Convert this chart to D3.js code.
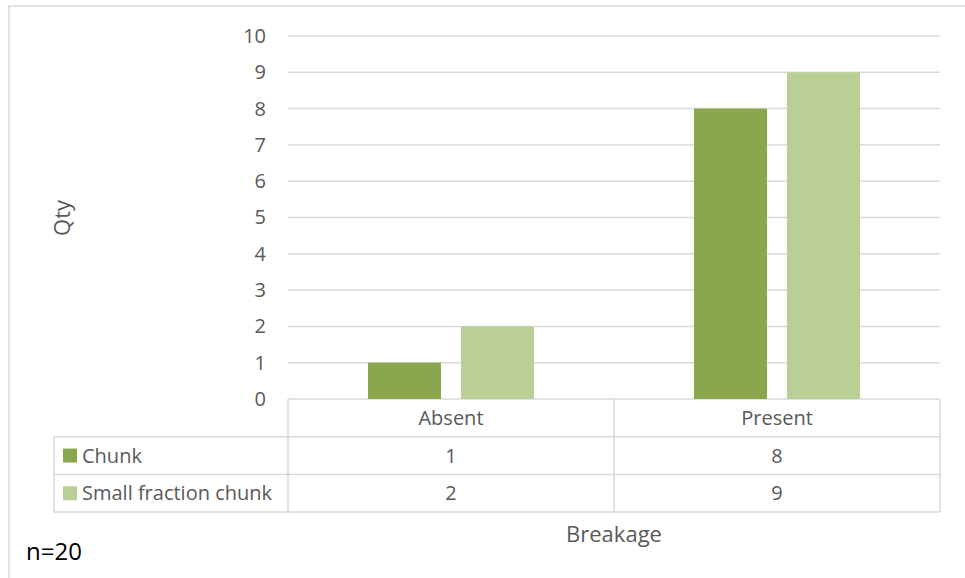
<!DOCTYPE html>
<html>
<head>
	<title>Breakage</title>
	<style type="text/css">
		body { margin: 0; background: #fff; }
		text { font-family: "Open Sans", sans-serif; fill: #595959; }
	</style>
</head>
<body>
	<div id="chart"></div>
	<script src="https://cdnjs.cloudflare.com/ajax/libs/d3/7.8.5/d3.min.js"></script>
	<script type="text/javascript">
		var categories = ["Absent", "Present"];
		var seriesNames = ["Chunk", "Small fraction chunk"];
		var chunk = [1, 8];
		var smallChunk = [2, 9];
		var yTicks = [0, 1, 2, 3, 4, 5, 6, 7, 8, 9, 10];
		var colors = ["#8AA64E", "#BACF96"];

		var width = 965, height = 578;
		var plotLeft = 288, plotRight = 940, plotTop = 36, plotBottom = 399;
		var rowH = 37.7;
		var fs = 20;

		var svg = d3.select('#chart').append('svg')
			.attr('width', width)
			.attr('height', height);

		// outer chart border
		svg.append('rect')
			.attr('x', 9).attr('y', 6)
			.attr('width', 970).attr('height', 600)
			.attr('fill', 'none')
			.attr('stroke', '#d9d9d9')
			.attr('stroke-width', 1.5);

		var y = d3.scaleLinear().domain([0, 10]).range([plotBottom, plotTop]);
		var x0 = d3.scaleBand().domain(categories).range([plotLeft, plotRight]);
		var x1 = d3.scaleBand().domain(seriesNames)
			.range([80, 326 - 80]).paddingInner(0.215);

		// gridlines
		svg.append('g').selectAll('line')
			.data(yTicks)
			.enter().append('line')
			.attr('x1', plotLeft).attr('x2', plotRight)
			.attr('y1', function(d) { return y(d); })
			.attr('y2', function(d) { return y(d); })
			.attr('stroke', '#d9d9d9')
			.attr('stroke-width', 1.5);

		// y tick labels
		var yAxis = d3.axisLeft(y).tickValues(yTicks).tickSize(0).tickPadding(0);
		var ga = svg.append('g').attr('transform', 'translate(266,0)').call(yAxis);
		ga.select('.domain').remove();
		ga.selectAll('text')
			.attr('font-size', fs)
			.attr('font-family', '"Open Sans", sans-serif')
			.attr('fill', '#595959');

		// bars
		var series = [chunk, smallChunk];
		series.forEach(function(vals, si) {
			svg.append('g').selectAll('rect')
				.data(vals)
				.enter().append('rect')
				.attr('x', function(d, i) { return x0(categories[i]) + x1(seriesNames[si]); })
				.attr('width', x1.bandwidth())
				.attr('y', function(d) { return y(d); })
				.attr('height', function(d) { return plotBottom - y(d); })
				.attr('fill', colors[si]);
		});

		// data table
		var tbl = svg.append('g');
		var tableLeft = 54;
		var rows = [plotBottom, plotBottom + rowH, plotBottom + 2 * rowH, plotBottom + 3 * rowH];
		function hline(xa, xb, yy) {
			tbl.append('line').attr('x1', xa).attr('x2', xb).attr('y1', yy).attr('y2', yy)
				.attr('stroke', '#d9d9d9').attr('stroke-width', 1.5);
		}
		function vline(xx, ya, yb) {
			tbl.append('line').attr('x1', xx).attr('x2', xx).attr('y1', ya).attr('y2', yb)
				.attr('stroke', '#d9d9d9').attr('stroke-width', 1.5);
		}
		hline(tableLeft, plotRight, rows[1]);
		hline(tableLeft, plotRight, rows[2]);
		hline(tableLeft, plotRight, rows[3]);
		vline(tableLeft, rows[1], rows[3]);
		vline(plotLeft, rows[0], rows[3]);
		vline(x0(categories[1]), rows[0], rows[3]);
		vline(plotRight, rows[0], rows[3]);

		// header row
		tbl.selectAll('.hdr')
			.data(categories)
			.enter().append('text')
			.attr('x', function(d) { return x0(d) + x0.bandwidth() / 2; })
			.attr('y', rows[0] + rowH / 2)
			.attr('dy', '0.35em')
			.attr('text-anchor', 'middle')
			.attr('font-size', fs)
			.text(function(d) { return d; });

		series.forEach(function(vals, si) {
			var ry = rows[si + 1];
			tbl.append('rect')
				.attr('x', 63).attr('y', ry + rowH / 2 - 7)
				.attr('width', 14).attr('height', 14)
				.attr('fill', colors[si]);
			tbl.append('text')
				.attr('x', 82).attr('y', ry + rowH / 2)
				.attr('dy', '0.35em')
				.attr('font-size', fs)
				.text(seriesNames[si]);
			tbl.selectAll('.v' + si)
				.data(vals)
				.enter().append('text')
				.attr('x', function(d, i) { return x0(categories[i]) + x0.bandwidth() / 2; })
				.attr('y', ry + rowH / 2)
				.attr('dy', '0.35em')
				.attr('text-anchor', 'middle')
				.attr('font-size', fs)
				.text(function(d) { return d; });
		});

		// axis titles
		svg.append('text')
			.attr('x', 614).attr('y', 534)
			.attr('dy', '0.35em')
			.attr('text-anchor', 'middle')
			.attr('font-size', 22)
			.text('Breakage');

		svg.append('text')
			.attr('transform', 'translate(62,218) rotate(-90)')
			.attr('dy', '0.35em')
			.attr('text-anchor', 'middle')
			.attr('font-size', 22)
			.text('Qty');

		svg.append('text')
			.attr('x', 26).attr('y', 552)
			.attr('dy', '0.35em')
			.attr('font-size', 24)
			.style('fill', '#000')
			.text('n=20');
	</script>
</body>
</html>
